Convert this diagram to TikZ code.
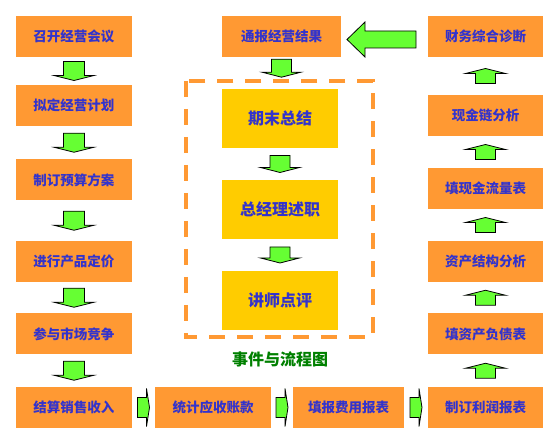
\documentclass[tikz,border=0pt]{standalone}
\usepackage{fontspec}
\setmainfont{Noto Sans CJK SC}
\usetikzlibrary{calc,positioning}
\definecolor{BoxOrange}{HTML}{FF9933}
\definecolor{BoxYellow}{HTML}{FFCC00}
\definecolor{TextBlue}{HTML}{3333CC}
\definecolor{ArrowGreen}{HTML}{66FF33}
\definecolor{CapGreen}{HTML}{008000}

\tikzset{
  stepbox/.style={fill=BoxOrange,text=TextBlue,minimum width=116pt,minimum height=41pt,inner sep=0pt,
    font=\fontsize{13.5}{16}\selectfont\bfseries},
  eventbox/.style={fill=BoxYellow,text=TextBlue,minimum width=116pt,minimum height=59pt,inner sep=0pt,
    font=\fontsize{16}{19}\selectfont\bfseries},
  frame/.style={draw=BoxOrange,line width=3.5pt,dash pattern=on 16pt off 12pt},
  % length / body half width / head half width / head length, pointing down
  pics/flowarrow/.style args={#1/#2/#3/#4}{code={
    \draw[fill=ArrowGreen,draw=black,line width=0.8pt,line join=miter]
      (-#2,#1/2) -- (#2,#1/2) -- (#2,-#1/2+#4) -- (#3,-#1/2+#4) -- (0,-#1/2)
      -- (-#3,-#1/2+#4) -- (-#2,-#1/2+#4) -- cycle;}},
}

\begin{document}
\begin{tikzpicture}[x=1pt,y=1pt]
        \useasboundingbox (0,0) rectangle (555,443);

        % left column
        \node[stepbox] (meeting) at (74,406.5) {召开经营会议};
        \node[stepbox] (plan)    at (74,337.5) {拟定经营计划};
        \node[stepbox] (budget)  at (74,263)   {制订预算方案};
        \node[stepbox] (pricing) at (74,181.5) {进行产品定价};
        \node[stepbox] (compete) at (74,109)   {参与市场竞争};
        \node[stepbox] (sales)   at (74,35.5)  {结算销售收入};

        % bottom row
        \node[stepbox] (receive) at (213,35.5)   {统计应收账款};
        \node[stepbox,minimum width=111pt] (expense) at (348.5,35.5) {填报费用报表};

        % right column
        \node[stepbox,minimum width=115pt] (profit)    at (485.5,35.5)  {制订利润报表};
        \node[stepbox,minimum width=115pt] (balance)   at (485.5,109)   {填资产负债表};
        \node[stepbox,minimum width=115pt] (structure) at (485.5,181.5) {资产结构分析};
        \node[stepbox,minimum width=115pt] (cashflow)  at (485.5,254.5) {填现金流量表};
        \node[stepbox,minimum width=115pt] (cashchain) at (485.5,327.5) {现金链分析};
        \node[stepbox,minimum width=115pt] (diagnose)  at (485.5,406.5) {财务综合诊断};

        % centre
        \node[stepbox,minimum width=119pt] (report) at (281.5,406.5) {通报经营结果};
        \node[eventbox] (summary) at (280,324.5) {期末总结};
        \node[eventbox] (review)  at (280,233.5) {总经理述职};
        \node[eventbox] (comment) at (280,142.5) {讲师点评};
        \draw[frame] ($(summary.north west)+(-36,8)$) rectangle ($(comment.south east)+(35,-7)$);
        \node[text=CapGreen,font=\fontsize{16}{19}\selectfont\bfseries] (caption) at (280,84) {事件与流程图};

        % arrows
        \pic at ($(meeting.south)!0.5!(plan.north)$)    {flowarrow=19/10.5/20/5};
        \pic at ($(plan.south)!0.5!(budget.north)$)     {flowarrow=19/10.5/20/5};
        \pic at ($(budget.south)!0.5!(pricing.north)$)  {flowarrow=19/10.5/20/5};
        \pic at ($(pricing.south)!0.5!(compete.north)$) {flowarrow=19/10.5/20/5};
        \pic at ($(compete.south)!0.5!(sales.north)$)   {flowarrow=19/10.5/20/5};

        \pic[rotate=90] at ($(sales.east)!0.5!(receive.west)$)    {flowarrow=12/10/19/3};
        \pic[rotate=90] at ($(receive.east)!0.5!(expense.west)$)  {flowarrow=12/10/19/3};
        \pic[rotate=90] at ($(expense.east)!0.5!(profit.west)$)   {flowarrow=12/10/19/3};

        \pic[rotate=180] at ($(profit.north)!0.5!(balance.south)$)      {flowarrow=15/10/20/5};
        \pic[rotate=180] at ($(balance.north)!0.5!(structure.south)$)   {flowarrow=15/10/20/5};
        \pic[rotate=180] at ($(structure.north)!0.5!(cashflow.south)$)  {flowarrow=15/10/20/5};
        \pic[rotate=180] at ($(cashflow.north)!0.5!(cashchain.south)$)  {flowarrow=15/10/20/5};
        \pic[rotate=180] at ($(cashchain.north)!0.5!(diagnose.south)$)  {flowarrow=15/10/20/5};

        \pic[rotate=-90] at ($(report.east)!0.5!(diagnose.west)+(-3,-3)$) {flowarrow=69/8.5/17.5/18};

        \pic at ($(report.south)+(0,-11)$)               {flowarrow=18/10/19.5/5};
        \pic at ($(summary.south)!0.5!(review.north)$)   {flowarrow=17/10/19.5/5};
        \pic at ($(review.south)!0.5!(comment.north)$)   {flowarrow=16/10/19.5/5};
      \end{tikzpicture}
\end{document}
